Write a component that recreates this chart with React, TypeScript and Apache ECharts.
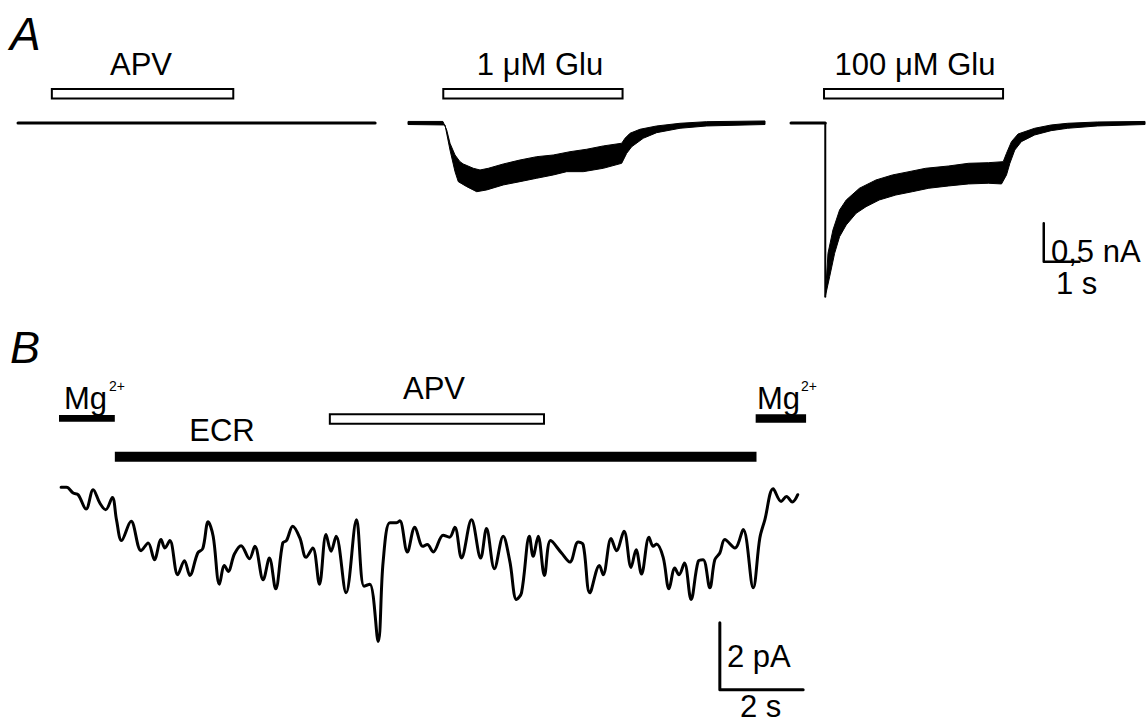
import React, { useEffect, useRef } from "react";
import * as echarts from "echarts";

// ---------- Panel A (time in s, current in nA) ----------
const apvTraceA: number[][] = [[0, 0], [9.92, 0]];

const glu1Upper: number[][] = [[0, 0.02], [0.97, 0.02], [1.075, -0.091], [1.167, -0.264], [1.306, -0.417], [1.444, -0.504], [1.536, -0.534], [1.814, -0.59], [2.0, -0.612], [2.231, -0.59], [2.647, -0.534], [3.111, -0.482], [3.575, -0.439], [4.036, -0.417], [4.5, -0.374], [4.964, -0.342], [5.425, -0.299], [5.936, -0.264], [6.028, -0.199], [6.167, -0.134], [6.444, -0.082], [6.908, -0.039], [7.556, -0.004], [8.297, 0.017], [9.917, 0.026]];
const glu1Lower: number[][] = [[0, -0.02], [1.028, -0.026], [1.167, -0.352], [1.306, -0.634], [1.397, -0.764], [1.631, -0.829], [1.908, -0.895], [2.186, -0.872], [2.647, -0.807], [3.111, -0.764], [3.575, -0.72], [4.036, -0.677], [4.408, -0.634], [4.869, -0.634], [5.425, -0.59], [5.936, -0.525], [6.075, -0.395], [6.214, -0.309], [6.536, -0.199], [6.908, -0.126], [7.556, -0.069], [8.297, -0.039], [9.917, -0.02]];

const glu100Baseline: number[][] = [[0, 0], [0.96, 0]];
const glu100Drop: number[][] = [[0.96, 0], [0.96, -2.262]];
const glu100Upper: number[][] = [[0.96, -2.262], [1.036, -1.697], [1.175, -1.393], [1.361, -1.133], [1.547, -1.003], [1.917, -0.85], [2.381, -0.742], [2.842, -0.677], [3.306, -0.634], [3.769, -0.59], [4.417, -0.56], [4.972, -0.525], [5.528, -0.517], [5.944, -0.504], [6.036, -0.395], [6.175, -0.243], [6.361, -0.143], [6.825, -0.069], [7.286, -0.026], [7.75, -0.004], [8.583, 0.013], [9.917, 0.02]];
const glu100Lower: number[][] = [[0.96, -2.262], [1.083, -2.001], [1.222, -1.697], [1.361, -1.48], [1.547, -1.328], [1.825, -1.176], [2.103, -1.09], [2.472, -1.003], [2.936, -0.938], [3.397, -0.895], [3.861, -0.85], [4.417, -0.82], [4.972, -0.794], [5.528, -0.785], [5.897, -0.794], [6.036, -0.677], [6.131, -0.525], [6.269, -0.352], [6.453, -0.243], [6.825, -0.156], [7.286, -0.1], [7.75, -0.069], [8.583, -0.039], [9.917, -0.02]];

// application bars: [start s, end s, top, bottom, filled(1)/open(0)]
const barApvA: number[][] = [[0.94, 5.98, 0.443, 0.32, 0]];
const barGlu1: number[][] = [[0.98, 5.96, 0.443, 0.32, 0]];
const barGlu100: number[][] = [[0.925, 5.94, 0.443, 0.32, 0]];
const scaleBarA: number[][] = [[7.08, -1.306], [7.08, -1.806], [8.08, -1.806]];

// ---------- Panel B (time in s, current in pA) ----------
const barsB: number[][] = [
  [0.0, 1.34, 2.15, 1.95, 1],
  [1.34, 16.74, 1.05, 0.755, 1],
  [6.5, 11.64, 2.17, 1.89, 0],
  [16.72, 17.93, 2.17, 1.92, 1],
];
const traceB: number[][] = [
  [0.05, -0.01], [0.18, -0.01], [0.34, -0.18], [0.46, -0.23], [0.65, -0.66], [0.82, -0.08], [0.98, -0.48], [1.12, -0.68], [1.28, -0.31], [1.38, -0.98], [1.5, -1.6], [1.73, -1.02], [1.97, -1.9], [2.14, -1.67], [2.29, -2.17], [2.45, -1.57], [2.54, -1.82], [2.66, -1.6], [2.85, -2.62], [3.01, -2.2], [3.14, -2.64], [3.33, -1.97], [3.45, -1.84], [3.58, -1.04], [3.7, -1.47], [3.85, -2.9], [3.97, -2.34], [4.06, -2.52], [4.21, -2.0], [4.37, -1.75], [4.57, -2.14], [4.7, -1.77], [4.9, -2.77], [5.05, -2.12], [5.2, -3.04], [5.37, -1.67], [5.46, -1.6], [5.61, -1.17], [5.78, -1.52], [5.93, -2.1], [6.09, -1.82], [6.25, -2.9], [6.41, -1.42], [6.53, -1.92], [6.65, -1.47], [6.89, -3.16], [7.14, -0.98], [7.32, -2.96], [7.46, -2.9], [7.66, -4.61], [7.78, -2.22], [7.94, -1.07], [8.1, -1.07], [8.18, -1.01], [8.36, -1.94], [8.54, -1.2], [8.73, -1.77], [8.84, -1.72], [8.98, -1.94], [9.22, -1.44], [9.37, -1.5], [9.5, -1.2], [9.66, -2.12], [9.9, -0.98], [10.12, -2.12], [10.26, -1.24], [10.45, -2.44], [10.66, -1.47], [10.82, -2.22], [10.98, -3.36], [11.1, -3.16], [11.29, -1.47], [11.38, -2.07], [11.5, -1.47], [11.65, -2.64], [11.8, -1.6], [12.06, -1.97], [12.26, -2.24], [12.46, -1.64], [12.58, -1.72], [12.74, -3.16], [12.97, -2.34], [13.06, -2.62], [13.25, -1.54], [13.38, -1.9], [13.56, -1.32], [13.73, -2.4], [13.85, -1.87], [13.98, -2.6], [14.16, -1.5], [14.26, -1.77], [14.34, -1.7], [14.5, -2.1], [14.64, -3.04], [14.78, -2.42], [14.88, -2.62], [15.01, -2.27], [15.17, -3.36], [15.34, -2.22], [15.46, -2.17], [15.62, -3.01], [15.74, -2.17], [15.86, -1.97], [15.98, -1.57], [16.22, -1.82], [16.42, -1.27], [16.66, -3.01], [16.82, -1.52], [16.94, -0.98], [17.14, -0.05], [17.33, -0.43], [17.46, -0.28], [17.6, -0.45], [17.73, -0.23],
];
const scaleBarB: number[][] = [[15.86, -4.05], [15.86, -6.05], [17.86, -6.05]];

// ---------- Labels ----------
type Lbl = { text: string; x: number; y: number; size: number; align: string; italic?: boolean };
const labels: Lbl[] = [
  { text: "A", x: 10, y: 33.5, size: 46, align: "left", italic: true },
  { text: "APV", x: 141, y: 64.5, size: 31, align: "center" },
  { text: "1 \u03bcM Glu", x: 540, y: 64.5, size: 31, align: "center" },
  { text: "100 \u03bcM Glu", x: 915, y: 64.5, size: 31, align: "center" },
  { text: "0,5 nA", x: 1051, y: 251, size: 31, align: "left" },
  { text: "1 s", x: 1056, y: 283, size: 31, align: "left" },
  { text: "B", x: 10, y: 347.5, size: 45, align: "left", italic: true },
  { text: "Mg", x: 64, y: 398.5, size: 31, align: "left" },
  { text: "2+", x: 109, y: 386, size: 14, align: "left" },
  { text: "APV", x: 434, y: 388.5, size: 31, align: "center" },
  { text: "ECR", x: 222, y: 430.5, size: 31, align: "center" },
  { text: "Mg", x: 757, y: 398.5, size: 31, align: "left" },
  { text: "2+", x: 801, y: 386, size: 14, align: "left" },
  { text: "2 pA", x: 727, y: 656.5, size: 31, align: "left" },
  { text: "2 s", x: 740, y: 706, size: 31, align: "left" },
];

const FONT = "'Liberation Sans', Arial, Helvetica, sans-serif";

const barItem = (_p: any, api: any) => {
  const a = api.coord([api.value(0), api.value(2)]);
  const b = api.coord([api.value(1), api.value(3)]);
  const filled = api.value(4) === 1;
  return {
    type: "rect",
    shape: { x: a[0], y: a[1], width: b[0] - a[0], height: b[1] - a[1] },
    style: { fill: filled ? "#000" : "#fff", stroke: "#000", lineWidth: filled ? 0 : 2 },
  };
};

const bandItem = (upper: number[][], lower: number[][]) => (_p: any, api: any) => {
  const pts = upper.map((p) => api.coord(p)).concat(lower.slice().reverse().map((p) => api.coord(p)));
  return { type: "polygon", shape: { points: pts }, style: { fill: "#000", stroke: "#000", lineWidth: 1 } };
};

const lineS = (data: number[][], idx: number, width: number, smooth: number | boolean = false) => ({
  type: "line",
  xAxisIndex: idx,
  yAxisIndex: idx,
  data,
  symbol: "none",
  smooth,
  silent: true,
  lineStyle: { color: "#000", width, cap: "round", join: "round" },
});

const barS = (data: number[][], idx: number) => ({
  type: "custom",
  xAxisIndex: idx,
  yAxisIndex: idx,
  data,
  encode: { x: [0, 1], y: [2, 3] },
  renderItem: barItem,
  silent: true,
});

const bandS = (upper: number[][], lower: number[][], idx: number) => ({
  type: "custom",
  xAxisIndex: idx,
  yAxisIndex: idx,
  data: [[5, 0]],
  renderItem: bandItem(upper, lower),
  silent: true,
});

export default function App() {
  const ref = useRef<HTMLDivElement>(null);
  useEffect(() => {
    const chart = echarts.init(ref.current!, null, { renderer: "svg" });
    const aTop = 38.5;
    const aH = 261.1;
    const option: any = {
      animation: false,
      backgroundColor: "#fff",
      grid: [
        { left: 18, top: aTop, width: 360, height: aH },
        { left: 408, top: aTop, width: 360, height: aH },
        { left: 791, top: aTop, width: 360, height: aH },
        { left: 59, top: 399.9, width: 750, height: 304.85 },
      ],
      xAxis: [0, 1, 2, 3].map((i) => ({
        type: "value",
        gridIndex: i,
        min: 0,
        max: i === 3 ? 18 : 10,
        show: false,
      })),
      yAxis: [0, 1, 2, 3].map((i) => ({
        type: "value",
        gridIndex: i,
        min: i === 3 ? -6.5 : -2.3,
        max: i === 3 ? 2.6 : 1.1,
        show: false,
      })),
      series: [
        barS(barApvA, 0),
        lineS(apvTraceA, 0, 3),
        barS(barGlu1, 1),
        bandS(glu1Upper, glu1Lower, 1),
        barS(barGlu100, 2),
        lineS(glu100Baseline, 2, 3),
        lineS(glu100Drop, 2, 2),
        bandS(glu100Upper, glu100Lower, 2),
        lineS(scaleBarA, 2, 2.5),
        barS(barsB, 3),
        lineS(traceB, 3, 3, 0.35),
        lineS(scaleBarB, 3, 3),
      ],
      graphic: labels.map((l) => ({
        type: "text",
        x: l.x,
        y: l.y,
        silent: true,
        style: {
          text: l.text,
          fill: "#000",
          font: `${l.italic ? "italic " : ""}${l.size}px ${FONT}`,
          fontSize: l.size,
          fontFamily: FONT,
          fontStyle: l.italic ? "italic" : "normal",
          align: l.align,
          textAlign: l.align,
          verticalAlign: "middle",
          textVerticalAlign: "middle",
        },
      })),
    };
    chart.setOption(option);
    return () => chart.dispose();
  }, []);
  return (
    <div
      ref={ref}
      style={{ position: "fixed", left: 0, top: 0, width: 1148, height: 722, background: "#fff" }}
    />
  );
}
